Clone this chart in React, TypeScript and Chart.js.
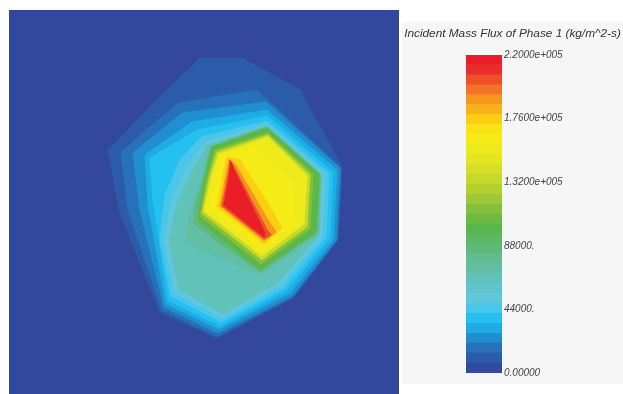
import React, { useEffect, useRef } from "react";
import { Chart, registerables } from "chart.js";

Chart.register(...registerables);

// ---- Colour bar (value range, 32 equal bands, bottom -> top) ----
const cbMin = 0;
const cbMax = 220000;
const cbColors = [
  "#2f4a9e", "#2c5ca9", "#2771b9", "#208fd0", "#1eace4", "#23c0f0", "#4ac6ea", "#5fc8dd",
  "#60c5cb", "#60c2b8", "#62bfa4", "#62bd90", "#5fba7a", "#5cb862", "#5ab74a", "#6cba41",
  "#86c03b", "#9ec835", "#b3d030", "#c6d82a", "#d5df25", "#e2e520", "#eeea1b", "#f5eb17",
  "#fae214", "#fcd010", "#f9b21b", "#f6961f", "#f27426", "#ee4f29", "#ea2d2a", "#e91e27",
];
const tickValues = [0, 44000, 88000, 132000, 176000, 220000];
const tickLabels = ["0.00000", "44000.", "88000.", "1.3200e+005", "1.7600e+005", "2.2000e+005"];
const titleText = "Incident Mass Flux of Phase 1 (kg/m^2-s)";

// ---- Contour bands: band index into cbColors, outline points [x, y] ----
const contourBand = [1, 2, 3, 4, 5, 6, 7, 9, 10, 12, 14, 16, 19, 22, 23, 25, 27, 29, 31];
const c01 = [[200,58],[242,58],[300,90],[342,167],[338,240],[293,298],[217,338],[160,312],[120,213],[108,150],[157,100]];
const c02 = [[178,103],[256,90],[268,100],[341,168],[337,240],[293,297],[217,336],[162,310],[128,210],[121,152]];
const c03 = [[182,113],[266,102],[340,168],[336,240],[292,296],[218,333],[164,307],[140,210],[133,153]];
const c04 = [[192,122],[267,110],[337,170],[333,240],[290,293],[219,329],[166,304],[148,205],[145,155]];
const c05 = [[197,130],[267,116],[333,172],[330,238],[287,290],[220,326],[168,300],[153,200],[150,158]];
const c06 = [[201,137],[267,121],[329,173],[326,237],[284,288],[221,322],[171,296],[160,240],[165,195],[180,160]];
const c07 = [[205,142],[267,124],[325,174],[322,236],[281,285],[222,318],[175,293],[164,240],[172,198],[188,165]];
const c08 = [[208,145],[267,126],[322,175],[319,235],[278,282],[223,314],[179,289],[169,240],[178,200],[193,170]];
const c09 = [[210,147],[267,127],[321,175],[318,234],[262,274],[230,262],[185,243],[190,212],[200,185]];
const c10 = [[211,147],[267,127],[320,174],[317,233],[261,272],[215,240],[193,222],[197,200],[203,180]];
const c11 = [[212,147],[267,128],[319,174],[316,232],[260,270],[198,220],[203,188]];
const c12 = [[215,150],[268,133],[313,174],[310,229],[261,264],[200,216],[206,182]];
const c13 = [[217,152],[268,135],[310,175],[307,227],[262,260],[202,213],[209,178]];
const c14 = [[219,154],[268,137],[307,176],[304,224],[262,256],[204,211],[212,174]];
const c15 = [[221,156],[258,146],[292,182],[296,222],[263,251],[208,209],[216,172]];
const c16 = [[227,157],[240,160],[272,210],[282,228],[264,244],[217,207],[223,175]];
const c17 = [[229,159],[236,165],[268,220],[276,232],[264,241],[220,206],[226,175]];
const c18 = [[230,160],[234,167],[266,228],[271,235],[264,239],[222,206],[228,175]];
const c19 = [[231,162],[233,168],[265,233],[264,237],[224,205],[229,178]];
const contours = [c01, c02, c03, c04, c05, c06, c07, c08, c09, c10, c11, c12, c13, c14, c15, c16, c17, c18, c19];

const plotBg = "#33489c";

function ContourPlot() {
  const ref = useRef<HTMLCanvasElement>(null);
  useEffect(() => {
    if (!ref.current) return;
    const n = contours.length;
    const datasets = contours.map((poly, i) => {
      const col = cbColors[contourBand[i]];
      const pts = poly.map(([x, y]) => ({ x, y }));
      pts.push({ x: poly[0][0], y: poly[0][1] });
      return {
        type: "line" as const,
        data: pts,
        showLine: true,
        fill: "shape",
        backgroundColor: col,
        borderColor: col,
        borderWidth: 1,
        pointRadius: 0,
        tension: 0,
        order: n - i,
      };
    });
    const chart = new Chart(ref.current, {
      type: "scatter",
      data: { datasets: datasets as any },
      options: {
        animation: false,
        responsive: false,
        events: [],
        layout: { padding: 0 },
        plugins: { legend: { display: false }, tooltip: { enabled: false } },
        scales: {
          x: { type: "linear", min: 9, max: 399, display: false },
          y: { type: "linear", min: 10, max: 394, reverse: true, display: false },
        },
      },
    });
    return () => chart.destroy();
  }, []);
  return (
    <div style={{ position: "absolute", left: 9, top: 10, width: 390, height: 384, background: plotBg }}>
      <canvas ref={ref} width={390} height={384} style={{ width: 390, height: 384, display: "block" }} />
    </div>
  );
}

function ColorBar() {
  const ref = useRef<HTMLCanvasElement>(null);
  useEffect(() => {
    if (!ref.current) return;
    const step = (cbMax - cbMin) / cbColors.length;
    const datasets = cbColors.map((c) => ({
      data: [step],
      backgroundColor: c,
      borderWidth: 0,
      barPercentage: 1,
      categoryPercentage: 1,
      stack: "cb",
    }));
    const font = { family: "'Liberation Sans', Arial, sans-serif", style: "italic" as const };
    const chart = new Chart(ref.current, {
      type: "bar",
      data: { labels: [""], datasets },
      options: {
        animation: false,
        responsive: false,
        events: [],
        layout: { padding: { top: 0, bottom: 21, left: 0, right: 0 } },
        plugins: {
          legend: { display: false },
          tooltip: { enabled: false },
          title: {
            display: true,
            text: titleText,
            color: "#333",
            font: { ...font, size: 11.8, weight: "normal" },
            padding: { top: 27, bottom: 13.8 },
          },
        },
        scales: {
          x: { stacked: true, display: false },
          yl: {
            position: "left",
            display: true,
            min: cbMin,
            max: cbMax,
            ticks: { display: false },
            grid: { display: false, drawTicks: false },
            border: { display: false },
            afterFit: (s: any) => { s.width = 64; },
          },
          y: {
            stacked: true,
            position: "right",
            min: cbMin,
            max: cbMax,
            afterBuildTicks: (s: any) => { s.ticks = tickValues.map((v) => ({ value: v })); },
            ticks: {
              padding: 2,
              color: "#444",
              font: { ...font, size: 10 },
              callback: (v: any) => tickLabels[tickValues.indexOf(Number(v))] ?? "",
            },
            grid: { display: false, drawTicks: false },
            border: { display: false },
            afterFit: (s: any) => { s.width = 121; },
          },
        },
      } as any,
    });
    return () => chart.destroy();
  }, []);
  return (
    <>
      <div style={{ position: "absolute", left: 402, top: 22, width: 221, height: 362, background: "#f6f6f6" }} />
      <canvas ref={ref} width={221} height={394} style={{ position: "absolute", left: 402, top: 0, width: 221, height: 394 }} />
    </>
  );
}

export default function App() {
  return (
    <div style={{ position: "absolute", left: 0, top: 0, width: 623, height: 394, background: "#ffffff", overflow: "hidden" }}>
      <ContourPlot />
      <ColorBar />
    </div>
  );
}
